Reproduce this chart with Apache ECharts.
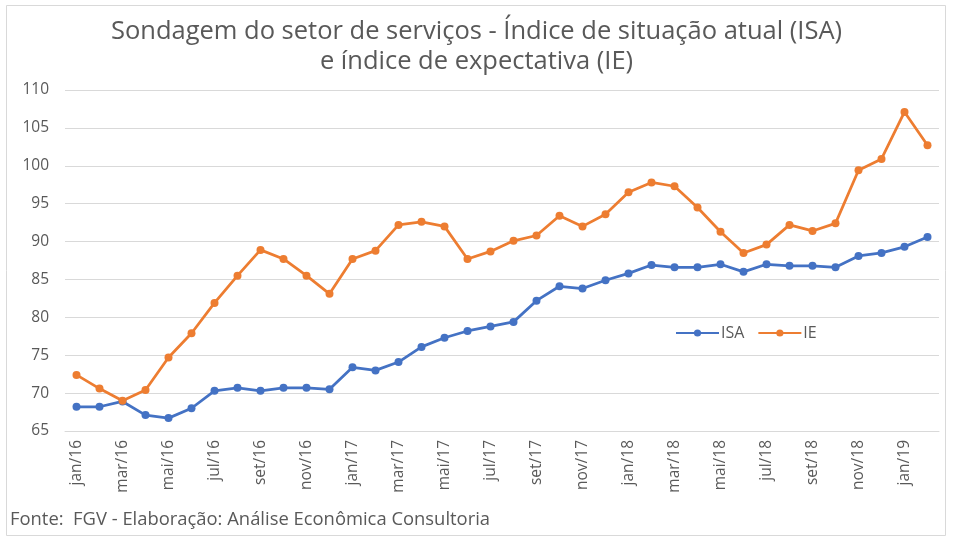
<!DOCTYPE html>
<html>
<head>
<meta charset="utf-8">
<script src="https://cdn.jsdelivr.net/npm/echarts@6/dist/echarts.min.js"></script>
<style>html,body{margin:0;padding:0;background:#fff;}#c{width:953px;height:545px;}</style>
</head>
<body>
<div id="c"></div>
<script>
const categories = [
  'jan/16','fev/16','mar/16','abr/16','mai/16','jun/16','jul/16','ago/16','set/16','out/16','nov/16','dez/16',
  'jan/17','fev/17','mar/17','abr/17','mai/17','jun/17','jul/17','ago/17','set/17','out/17','nov/17','dez/17',
  'jan/18','fev/18','mar/18','abr/18','mai/18','jun/18','jul/18','ago/18','set/18','out/18','nov/18','dez/18',
  'jan/19','fev/19'
];
const isa = [
  68.2,68.2,68.9,67.1,66.7,68.0,70.3,70.7,70.3,70.7,70.7,70.5,
  73.4,73.0,74.1,76.1,77.3,78.2,78.8,79.4,82.2,84.1,83.8,84.9,
  85.8,86.9,86.6,86.6,87.0,86.0,87.0,86.8,86.8,86.6,88.1,88.5,
  89.3,90.6
];
const ie = [
  72.4,70.6,69.0,70.4,74.7,77.9,81.9,85.5,88.9,87.7,85.5,83.1,
  87.7,88.8,92.2,92.6,92.0,87.7,88.7,90.1,90.8,93.4,92.0,93.6,
  96.5,97.8,97.3,94.5,91.3,88.5,89.6,92.2,91.4,92.4,99.4,100.9,
  107.1,102.7
];
const yTicks = { min: 65, max: 110, interval: 5 };
const titleLines = ['Sondagem do setor de serviços - Índice de situação atual (ISA)', 'e índice de expectativa (IE)'];
const sourceText = 'Fonte:  FGV - Elaboração: Análise Econômica Consultoria';

const FONT = '"Open Sans", Lato, sans-serif';
const chart = echarts.init(document.getElementById('c'), null, {renderer: 'canvas'});
chart.setOption({
  backgroundColor: '#fff',
  animation: false,
  title: {
    text: titleLines.join('\n'),
    left: 'center',
    top: 12,
    textStyle: { fontFamily: FONT, fontSize: 25.5, fontWeight: 'normal', color: '#595959', lineHeight: 30 }
  },
  graphic: [
    { type: 'rect', shape: { x: 6.5, y: 5.5, width: 939, height: 530 }, style: { fill: 'none', stroke: '#d9d9d9', lineWidth: 1 }, z: -1 },
    { type: 'text', left: 10, top: 511, style: { text: sourceText, fontFamily: FONT, fontSize: 18.4, fill: '#595959' } }
  ],
  legend: {
    left: 670, top: 320,
    itemWidth: 43, itemHeight: 9, itemGap: 13,
    textStyle: { fontFamily: FONT, fontSize: 16, color: '#595959', padding: [0,0,0,-3] },
    data: ['ISA', 'IE']
  },
  grid: { left: 65, right: 14, top: 90, bottom: 114, containLabel: false },
  xAxis: {
    type: 'category',
    data: categories,
    boundaryGap: true,
    axisLine: { lineStyle: { color: '#d9d9d9' } },
    axisTick: { show: false },
    axisLabel: { rotate: 90, interval: 1, fontFamily: FONT, fontSize: 15.5, color: '#595959', margin: 9 }
  },
  yAxis: {
    type: 'value',
    min: yTicks.min, max: yTicks.max, interval: yTicks.interval,
    axisLine: { show: false },
    axisTick: { show: false },
    splitLine: { lineStyle: { color: '#d9d9d9' } },
    axisLabel: { fontFamily: FONT, fontSize: 15.5, color: '#595959', margin: 16 }
  },
  series: [
    { name: 'ISA', type: 'line', data: isa, symbol: 'circle', symbolSize: 8,
      lineStyle: { width: 2.75, color: '#4472C4' }, itemStyle: { color: '#4472C4' } },
    { name: 'IE', type: 'line', data: ie, symbol: 'circle', symbolSize: 8,
      lineStyle: { width: 2.75, color: '#ED7D31' }, itemStyle: { color: '#ED7D31' } }
  ]
});
</script>
</body>
</html>
